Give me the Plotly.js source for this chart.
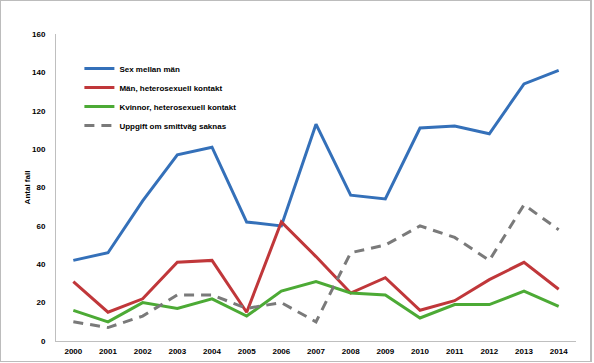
<!DOCTYPE html>
<html>
<head>
<meta charset="utf-8">
<script src="https://cdn.plot.ly/plotly-3.0.1.min.js"></script>
<style>
html,body{margin:0;padding:0;background:#fff;}
#wrap{position:relative;width:594px;height:363px;}
#frame{position:absolute;left:0;top:0;width:592px;height:362px;box-sizing:border-box;border:1px solid #bcbcbc;border-right:2px solid #bcbcbc;pointer-events:none;}
</style>
</head>
<body>
<div id="wrap"><div id="chart"></div><div id="frame"></div></div>
<script>
const years = ["2000","2001","2002","2003","2004","2005","2006","2007","2008","2009","2010","2011","2012","2013","2014"];
const sexMellanMan = [42,46,73,97,101,62,60,113,76,74,111,112,108,134,141];
const manHetero = [31,15,22,41,42,15,62,44,25,33,16,21,32,41,27];
const kvinnorHetero = [16,10,20,17,22,13,26,31,25,24,12,19,19,26,18];
const uppgiftSaknas = [10,7,13,24,24,17,20,10,46,50,60,54,42,71,58];
const seriesNames = ["Sex mellan män","Män, heterosexuell kontakt","Kvinnor, heterosexuell kontakt","Uppgift om smittväg saknas"];

const fontFam = '"Liberation Sans", Arial, sans-serif';
const traces = [
  {x: years, y: sexMellanMan, name: seriesNames[0], type: 'scatter', mode: 'lines', line: {color: '#3470b9', width: 3}},
  {x: years, y: manHetero, name: seriesNames[1], type: 'scatter', mode: 'lines', line: {color: '#c0373a', width: 3}},
  {x: years, y: kvinnorHetero, name: seriesNames[2], type: 'scatter', mode: 'lines', line: {color: '#4caa35', width: 3}},
  {x: years, y: uppgiftSaknas, name: seriesNames[3], type: 'scatter', mode: 'lines', line: {color: '#7a7a7a', width: 3, dash: '10px,7px'}}
];

const layout = {
  width: 594, height: 363,
  margin: {l: 56, r: 18, t: 34, b: 22},
  paper_bgcolor: '#fff', plot_bgcolor: '#fff',
  font: {family: fontFam, size: 8, color: '#000', weight: 'bold'},
  showlegend: true,
  legend: {x: 0.045, y: 0.935, xanchor: 'left', yanchor: 'top', bgcolor: 'rgba(0,0,0,0)',
           font: {family: fontFam, size: 8, color: '#000', weight: 'bold'}, itemwidth: 30, tracegroupgap: 0},
  xaxis: {type: 'category', range: [-0.5, 14.5], showgrid: false, zeroline: false,
          showline: true, linecolor: '#bfbfbf', linewidth: 1, ticks: '', ticklabelstandoff: 2,
          tickfont: {family: fontFam, size: 8, color: '#000', weight: 'bold'}},
  yaxis: {range: [0, 160], dtick: 20, showgrid: false, zeroline: false,
          showline: true, linecolor: '#bfbfbf', linewidth: 1, ticks: '', ticklabelstandoff: 8,
          tickfont: {family: fontFam, size: 8, color: '#000', weight: 'bold'},
          title: {text: 'Antal fall', standoff: 0, font: {family: fontFam, size: 8, color: '#000', weight: 'bold'}}}
};

Plotly.newPlot('chart', traces, layout, {displayModeBar: false, staticPlot: true});
</script>
</body>
</html>
